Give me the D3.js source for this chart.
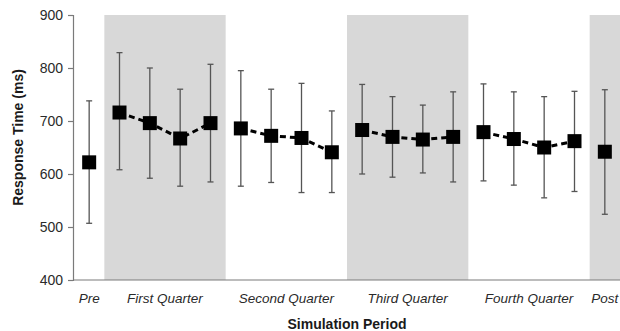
<!DOCTYPE html>
<html>
<head>
<meta charset="utf-8">
<script src="https://cdn.jsdelivr.net/npm/d3@7"></script>
<style>
  body { margin: 0; background: #fff; }
  svg { display: block; font-family: "Liberation Sans", Arial, sans-serif; }
</style>
</head>
<body>
<div id="chart"></div>
<script>
// periods and which period each trial block belongs to
const periods = ['Pre', 'First Quarter', 'Second Quarter', 'Third Quarter', 'Fourth Quarter', 'Post'];
const shadedPeriods = ['First Quarter', 'Third Quarter', 'Post'];
const blockPeriod = [0, 1, 1, 1, 1, 2, 2, 2, 2, 3, 3, 3, 3, 4, 4, 4, 4, 5];
const means = [622, 716, 696, 667, 696, 686, 672, 668, 641, 683, 670, 665, 670, 679, 666, 650, 662, 642];
const upper = [738, 829, 800, 760, 807, 795, 760, 771, 719, 769, 746, 730, 755, 770, 755, 746, 756, 759];
const lower = [507, 608, 592, 577, 585, 577, 584, 565, 565, 600, 594, 602, 585, 587, 579, 555, 567, 524];
const yTicks = [400, 500, 600, 700, 800, 900];

const width = 620, height = 331;
const margin = { top: 15, right: 0, bottom: 51, left: 74 };

const data = means.map((m, i) => ({ i, mean: m, hi: upper[i], lo: lower[i], period: periods[blockPeriod[i]] }));

const svg = d3.select('#chart').append('svg')
  .attr('width', width)
  .attr('height', height);

const x = d3.scaleBand()
  .domain(data.map(d => d.i))
  .range([margin.left, width - margin.right])
  .padding(0);

const y = d3.scaleLinear()
  .domain([400, 900])
  .range([height - margin.bottom, margin.top]);

// extent of each period along x
const periodSpan = periods.map(p => {
  const idx = data.filter(d => d.period === p).map(d => d.i);
  return { name: p, x0: x(d3.min(idx)), x1: x(d3.max(idx)) + x.bandwidth() };
});

// shaded bands
svg.append('g')
  .selectAll('rect')
  .data(periodSpan.filter(p => shadedPeriods.includes(p.name)))
  .join('rect')
  .attr('x', d => d.x0)
  .attr('y', y(900))
  .attr('width', d => d.x1 - d.x0)
  .attr('height', y(400) - y(900))
  .attr('fill', '#d8d8d8');

// y axis
const yAxis = svg.append('g')
  .attr('transform', `translate(${margin.left - 1},0)`)
  .call(d3.axisLeft(y).tickValues(yTicks).tickSize(5).tickPadding(5));
yAxis.select('.domain').attr('stroke', '#7a7a7a').attr('stroke-width', 1.2);
yAxis.selectAll('.tick line').attr('stroke', '#7a7a7a').attr('stroke-width', 1.2);
yAxis.selectAll('.tick text')
  .style('font-size', '14px')
  .style('fill', '#2a2a2a')
  .style('font-family', '"Liberation Sans", Arial, sans-serif');

// x axis baseline
svg.append('line')
  .attr('x1', margin.left - 1)
  .attr('x2', width)
  .attr('y1', y(400))
  .attr('y2', y(400))
  .attr('stroke', '#7a7a7a')
  .attr('stroke-width', 1.2);

// period labels
svg.append('g')
  .selectAll('text')
  .data(periodSpan)
  .join('text')
  .attr('x', d => (d.x0 + d.x1) / 2)
  .attr('y', y(400) + 23)
  .attr('text-anchor', 'middle')
  .style('font-size', '13.5px')
  .style('font-style', 'italic')
  .style('fill', '#2a2a2a')
  .text(d => d.name);

// axis titles
svg.append('text')
  .attr('x', 347)
  .attr('y', 329)
  .attr('text-anchor', 'middle')
  .style('font-size', '14px')
  .style('font-weight', 'bold')
  .style('fill', '#1a1a1a')
  .text('Simulation Period');

svg.append('text')
  .attr('transform', `translate(23,${(y(900) + y(400)) / 2 - 10}) rotate(-90)`)
  .attr('text-anchor', 'middle')
  .style('font-size', '14px')
  .style('font-weight', 'bold')
  .style('fill', '#1a1a1a')
  .text('Response Time (ms)');

const cx = d => x(d.i) + x.bandwidth() / 2;

// error bars
const err = svg.append('g').attr('stroke', '#555').attr('stroke-width', 1.3);
err.selectAll('line.v')
  .data(data)
  .join('line')
  .attr('class', 'v')
  .attr('x1', cx).attr('x2', cx)
  .attr('y1', d => y(d.hi)).attr('y2', d => y(d.lo));
err.selectAll('line.top')
  .data(data)
  .join('line')
  .attr('class', 'top')
  .attr('x1', d => cx(d) - 3).attr('x2', d => cx(d) + 3)
  .attr('y1', d => y(d.hi)).attr('y2', d => y(d.hi));
err.selectAll('line.bot')
  .data(data)
  .join('line')
  .attr('class', 'bot')
  .attr('x1', d => cx(d) - 3).attr('x2', d => cx(d) + 3)
  .attr('y1', d => y(d.lo)).attr('y2', d => y(d.lo));

// dashed lines within each quarter
const line = d3.line().x(cx).y(d => y(d.mean));
const groups = d3.groups(data, d => d.period).filter(g => g[1].length > 1);
svg.append('g')
  .selectAll('path')
  .data(groups)
  .join('path')
  .attr('d', g => line(g[1]))
  .attr('fill', 'none')
  .attr('stroke', '#000')
  .attr('stroke-width', 3)
  .attr('stroke-dasharray', '6,4');

// square markers
const s = 14;
svg.append('g')
  .selectAll('rect')
  .data(data)
  .join('rect')
  .attr('x', d => cx(d) - s / 2)
  .attr('y', d => y(d.mean) - s / 2)
  .attr('width', s)
  .attr('height', s)
  .attr('fill', '#000');
</script>
</body>
</html>
